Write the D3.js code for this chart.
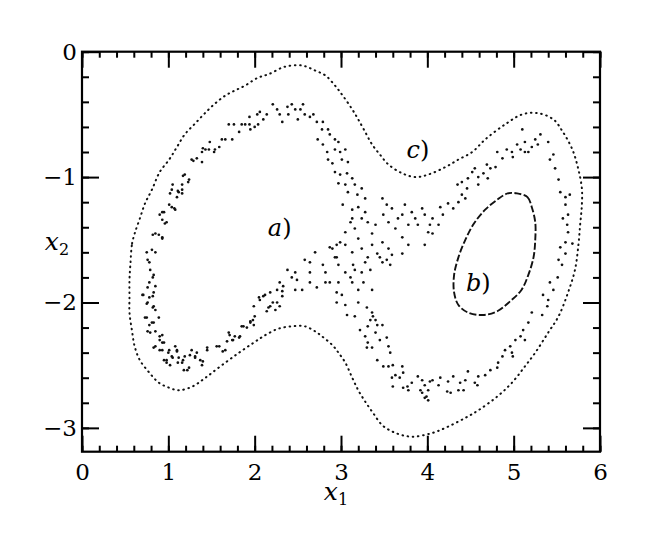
<!DOCTYPE html>
<html>
<head>
<meta charset="utf-8">
<script src="https://cdn.jsdelivr.net/npm/d3@7"></script>
<style>
  body { margin: 0; background: #fff; }
  svg text { font-family: "DejaVu Serif", "Liberation Serif", serif; fill: #000; }
</style>
</head>
<body>
<svg id="chart" width="654" height="534"></svg>
<script>
// a) chaotic band (x1, x2)
const bandA = [
    // upper-left arm
    [2.03,-0.50],[1.94,-0.52],[1.89,-0.58],[1.85,-0.58],[1.82,-0.64],[1.76,-0.58],[1.70,-0.58],
    [1.66,-0.70],[1.62,-0.70],[1.59,-0.76],[1.54,-0.78],[1.48,-0.72],[1.47,-0.78],[1.43,-0.78],
    [1.39,-0.80],[1.33,-0.85],[1.27,-0.86],[1.39,-0.88],[1.19,-0.98],[1.24,-1.02],[1.16,-1.06],
    [1.12,-1.12],[1.10,-1.16],[1.04,-1.10],[1.02,-1.13],[1.07,-1.25],[1.01,-1.22],[0.95,-1.28],
    [0.90,-1.30],[0.93,-1.34],[0.96,-1.37],[0.89,-1.46],[0.85,-1.45],[0.93,-1.48],[0.81,-1.58],
    [0.85,-1.60],[1.94,-0.58],[2.00,-0.60],[1.95,-0.62],[1.74,-0.70],[1.53,-0.80],[1.16,-1.10],
    [1.40,-0.77],[1.29,-0.87],[1.17,-0.99],[1.23,-1.04],[1.05,-1.06],[1.11,-1.11],[1.16,-1.13],
    [1.04,-1.24],[1.08,-1.26],[0.93,-1.28],[0.98,-1.36],[0.82,-1.46],[0.93,-1.49],
    // left side going down
    [0.76,-1.66],[0.79,-1.74],[0.82,-1.80],[0.76,-1.88],[0.71,-1.94],[0.82,-1.95],[0.76,-2.00],
    [0.82,-2.04],[0.75,-2.12],[0.81,-2.16],[0.76,-2.23],[0.90,-2.27],[0.85,-2.35],[0.93,-2.32],
    [0.75,-1.60],[0.78,-1.68],[0.83,-1.78],[0.78,-1.84],[0.85,-1.87],[0.70,-1.94],[0.78,-1.96],
    [0.83,-1.92],[0.75,-2.01],[0.83,-2.03],[0.85,-2.06],[0.73,-2.12],[0.89,-2.12],[0.78,-2.18],
    [0.83,-2.16],[0.85,-2.23],[0.79,-2.24],[0.93,-2.26],[0.90,-2.30],[0.95,-2.32],[0.83,-2.36],
    // lower-left bend
    [0.90,-2.38],[1.00,-2.40],[0.98,-2.46],[1.05,-2.44],[1.02,-2.50],[1.10,-2.38],[1.11,-2.48],
    [1.17,-2.46],[1.22,-2.54],[1.25,-2.42],[1.31,-2.44],[1.33,-2.40],[1.40,-2.47],[1.45,-2.38],
    [0.93,-2.38],[1.01,-2.38],[1.08,-2.35],[1.10,-2.39],[1.04,-2.43],[0.98,-2.48],[0.95,-2.46],
    [1.12,-2.44],[1.16,-2.48],[1.19,-2.43],[1.27,-2.38],[1.31,-2.43],[1.24,-2.52],[1.18,-2.54],
    [1.37,-2.46],[1.39,-2.50],[1.45,-2.36],
    // lower arm towards the centre
    [1.56,-2.35],[1.63,-2.39],[1.68,-2.31],[1.75,-2.30],[1.83,-2.27],[1.87,-2.19],[1.95,-2.16],
    [1.98,-2.14],[2.10,-1.95],[2.18,-2.03],[2.26,-2.00],[2.32,-1.95],[2.33,-1.87],[2.26,-1.90],
    [2.14,-2.07],[1.91,-2.20],[1.71,-2.26],[1.59,-2.35],[1.66,-2.38],[1.70,-2.24],[1.74,-2.30],
    [1.77,-2.27],[1.82,-2.28],[1.85,-2.19],[1.95,-2.15],[1.99,-2.18],[2.00,-2.11],[2.05,-1.96],
    [1.99,-2.03],[2.06,-1.98],[2.12,-1.94],[2.18,-1.92],[2.16,-2.04],[2.21,-2.00],[2.24,-2.06],
    [2.29,-2.03],[2.32,-1.91],[2.29,-1.84],
    // central crossing
    [2.38,-1.74],[2.43,-1.80],[2.47,-1.76],[2.49,-1.82],[2.47,-1.90],[2.55,-1.90],[2.58,-1.66],
    [2.64,-1.68],[2.64,-1.76],[2.64,-1.84],[2.72,-1.88],[2.70,-1.60],[2.79,-1.70],[2.82,-1.76],
    [2.82,-1.84],[2.87,-1.84],[2.93,-1.64],[2.97,-1.70],[2.97,-1.84],[2.95,-1.92],[2.95,-2.00],
    [3.01,-1.94],[3.05,-1.76],[3.05,-2.02],[3.07,-2.10],[3.11,-1.80],[3.13,-1.84],[3.13,-1.60],
    [3.14,-1.70],[3.16,-1.74],[3.20,-1.90],[3.16,-2.11],[3.20,-2.00],[3.24,-1.76],[3.26,-1.84],
    [3.28,-1.68],[3.31,-1.64],[3.34,-1.74],[3.36,-1.90],[3.30,-2.04],[3.36,-2.08],[3.37,-2.11],
    [3.40,-2.14],[3.34,-2.14],[3.31,-2.19],[2.87,-1.56],[2.99,-1.52],[2.95,-1.64],[3.11,-1.36],
    // lower-right arm
    [3.22,-2.22],[3.28,-2.27],[3.31,-2.32],[3.30,-2.36],[3.36,-2.36],[3.40,-2.24],[3.45,-2.30],
    [3.48,-2.18],[3.42,-2.18],[3.53,-2.28],[3.55,-2.35],[3.57,-2.40],[3.42,-2.46],[3.49,-2.51],
    [3.55,-2.51],[3.60,-2.50],[3.71,-2.51],[3.72,-2.56],[3.59,-2.60],[3.63,-2.58],[3.68,-2.60],
    [3.60,-2.67],[3.72,-2.68],[3.78,-2.70],[3.82,-2.64],[3.89,-2.59],[3.94,-2.62],[3.97,-2.66],
    [4.01,-2.70],[4.03,-2.63],[3.94,-2.72],[3.97,-2.76],[4.01,-2.78],[3.77,-2.67],[3.92,-2.70],
    [3.99,-2.75],[4.27,-2.72],[4.42,-2.70],[4.58,-2.66],
    [4.06,-2.62],[4.13,-2.66],[4.15,-2.60],[4.23,-2.71],[4.24,-2.63],[4.30,-2.59],[4.36,-2.70],
    [4.38,-2.64],[4.44,-2.62],[4.47,-2.55],[4.55,-2.64],[4.59,-2.59],[4.67,-2.58],[4.73,-2.54],
    [4.81,-2.52],[4.82,-2.48],[4.87,-2.43],[4.90,-2.38],[4.98,-2.40],[4.96,-2.35],[5.02,-2.30],
    [5.08,-2.27],[5.11,-2.22],[5.17,-2.16],[5.21,-2.08],[5.33,-2.10],[5.39,-2.03],[5.40,-1.98],
    [5.34,-1.94],[5.46,-1.90],[5.42,-1.84],[5.51,-1.80],[5.56,-1.70],[5.52,-1.66],[5.60,-1.61],
    [5.13,-2.30],[4.99,-2.43],
    // right side
    [5.60,-1.52],[5.68,-1.53],[5.54,-1.56],[5.63,-1.44],[5.62,-1.38],[5.57,-1.33],[5.63,-1.30],
    [5.60,-1.22],[5.60,-1.16],[5.65,-1.14],[5.54,-1.12],[5.52,-1.02],[5.48,-0.93],[5.46,-0.82],
    [5.42,-0.86],[5.40,-0.72],
    // upper-right arm
    [5.31,-0.66],[5.28,-0.74],[5.25,-0.70],[5.21,-0.76],[5.17,-0.80],[5.13,-0.72],[5.13,-0.80],
    [5.10,-0.62],[5.08,-0.78],[5.04,-0.74],[4.99,-0.84],[4.98,-0.80],[4.92,-0.78],[4.87,-0.85],
    [4.81,-0.80],[4.79,-0.92],[4.73,-0.93],[4.69,-0.90],[4.65,-0.97],[4.59,-1.00],[4.55,-0.93],
    [4.52,-0.96],[4.47,-1.01],[4.46,-1.09],[4.40,-1.04],[4.35,-1.06],[4.40,-1.14],[4.36,-1.20],
    [4.30,-1.25],[4.24,-1.21],[4.15,-1.24],[4.18,-1.30],[4.13,-1.38],[4.03,-1.38],[4.06,-1.45],
    [3.97,-1.54],[4.59,-1.06],[4.70,-1.01],[4.44,-1.17],
    // upper-middle arm and crossing
    [2.06,-0.48],[2.10,-0.54],[2.04,-0.58],[2.14,-0.50],[2.21,-0.42],[2.26,-0.46],[2.29,-0.50],
    [2.32,-0.56],[2.38,-0.44],[2.39,-0.50],[2.43,-0.42],[2.47,-0.46],[2.50,-0.54],[2.53,-0.46],
    [2.56,-0.42],[2.58,-0.50],[2.64,-0.52],[2.68,-0.50],[2.72,-0.56],[2.78,-0.62],[2.79,-0.56],
    [2.85,-0.62],[2.87,-0.66],[2.73,-0.70],[2.79,-0.74],[2.93,-0.70],[2.97,-0.72],[2.84,-0.80],
    [2.93,-0.78],[2.99,-0.80],[3.05,-0.78],[2.85,-0.86],[2.90,-0.89],[3.01,-0.86],[3.08,-0.88],
    [2.93,-0.96],[2.99,-0.98],[3.07,-0.97],[3.13,-1.01],[2.97,-1.05],[3.05,-1.06],[3.16,-1.06],
    [3.08,-1.12],[3.19,-1.14],[3.24,-1.09],[3.28,-1.17],[3.02,-1.22],[3.13,-1.26],[3.20,-1.24],
    [3.28,-1.28],[3.13,-1.33],[3.24,-1.33],[3.31,-1.36],[3.16,-1.41],[3.05,-1.44],[2.95,-1.54],
    [2.90,-1.57],[3.05,-1.54],[3.20,-1.49],[3.24,-1.57],[3.36,-1.45],[3.40,-1.38],[3.48,-1.17],
    [3.53,-1.22],[3.59,-1.25],[3.49,-1.30],[3.55,-1.36],[3.63,-1.41],[3.71,-1.30],[3.74,-1.22],
    [3.82,-1.28],[3.86,-1.33],[3.89,-1.38],[3.94,-1.25],[3.97,-1.30],[4.01,-1.44],[4.06,-1.33],
    [3.71,-1.48],[3.78,-1.54],[3.48,-1.52],[3.55,-1.57],[3.36,-1.54],[3.66,-1.33],[3.78,-1.38],
    [3.42,-1.61],[3.45,-1.64],[3.53,-1.66],[3.59,-1.62],[3.48,-1.68],[3.71,-1.61],[3.57,-1.70]
];

// b) closed curve
const loopB = [
    [5.04,-1.13],[5.16,-1.16],[5.21,-1.24],[5.25,-1.36],[5.25,-1.50],[5.23,-1.64],[5.17,-1.78],
    [5.09,-1.90],[4.96,-1.99],[4.81,-2.07],[4.64,-2.10],[4.47,-2.08],[4.36,-2.02],[4.31,-1.92],
    [4.31,-1.78],[4.36,-1.64],[4.44,-1.50],[4.54,-1.37],[4.67,-1.26],[4.81,-1.18],[4.93,-1.13]
];

// c) outer curve
const curveC = [
    [0.56,-1.70],[0.58,-1.53],[0.61,-1.45],[0.67,-1.33],[0.73,-1.21],[0.81,-1.10],[0.90,-0.96],
    [1.01,-0.86],[1.10,-0.76],[1.19,-0.66],[1.30,-0.58],[1.41,-0.50],[1.53,-0.42],[1.66,-0.35],
    [1.77,-0.31],[1.89,-0.27],[2.03,-0.21],[2.16,-0.18],[2.35,-0.12],[2.55,-0.11],[2.70,-0.15],
    [2.82,-0.19],[2.93,-0.27],[3.02,-0.35],[3.13,-0.46],[3.20,-0.54],[3.28,-0.64],[3.36,-0.74],
    [3.45,-0.82],[3.55,-0.90],[3.71,-0.97],[3.86,-1.00],[4.01,-0.98],[4.21,-0.92],[4.36,-0.86],
    [4.52,-0.80],[4.67,-0.70],[4.90,-0.58],[5.10,-0.50],[5.28,-0.49],[5.46,-0.54],[5.57,-0.64],
    [5.68,-0.78],[5.75,-0.94],[5.79,-1.09],[5.79,-1.22],[5.77,-1.38],[5.75,-1.54],[5.71,-1.74],
    [5.63,-1.92],[5.52,-2.11],[5.40,-2.24],[5.25,-2.40],[5.13,-2.51],[4.98,-2.64],[4.81,-2.75],
    [4.59,-2.86],[4.44,-2.92],[4.24,-2.99],[4.06,-3.04],[3.82,-3.07],[3.63,-3.04],[3.48,-2.98],
    [3.37,-2.88],[3.28,-2.79],[3.20,-2.70],[3.13,-2.60],[3.05,-2.48],[2.97,-2.40],[2.90,-2.34],
    [2.78,-2.27],[2.70,-2.23],[2.58,-2.19],[2.43,-2.19],[2.27,-2.21],[2.10,-2.27],[1.99,-2.32],
    [1.82,-2.40],[1.62,-2.50],[1.43,-2.60],[1.28,-2.67],[1.12,-2.70],[1.01,-2.68],[0.89,-2.64],
    [0.78,-2.56],[0.67,-2.46],[0.61,-2.35],[0.58,-2.23],[0.55,-2.08],[0.55,-1.96],[0.55,-1.82]
];

const xMajor = [0, 1, 2, 3, 4, 5, 6];
const yMajor = [0, -1, -2, -3];
const curveLabels = [
    {name: "a", x: 2.29, y: -1.47},
    {name: "b", x: 4.59, y: -1.91},
    {name: "c", x: 3.89, y: -0.85}
];

const svg = d3.select("#chart");
const x = d3.scaleLinear().domain([0, 6]).range([82, 600]);
const y = d3.scaleLinear().domain([-3.19, 0]).range([451.7, 51.7]);

const minorX = d3.range(0, 6.001, 0.2);
const minorY = d3.range(-3.2, 0.001, 0.2).filter(d => d >= -3.19);
const fmt = d => d < 0 ? "\u2212" + (-d) : "" + d;

// inward ticks on all four sides
function tickRow(axis, values, size, tx, ty) {
    svg.append("g")
        .attr("transform", "translate(" + tx + "," + ty + ")")
        .call(axis.tickValues(values).tickSize(-size).tickFormat(""))
        .call(g => g.select(".domain").remove())
        .selectAll("line").attr("stroke", "#000").attr("stroke-width", 2);
}
tickRow(d3.axisBottom(x), minorX, 6, 0, y.range()[0]);
tickRow(d3.axisBottom(x), xMajor, 16, 0, y.range()[0]);
tickRow(d3.axisTop(x), minorX, 6, 0, y.range()[1]);
tickRow(d3.axisTop(x), xMajor, 16, 0, y.range()[1]);
tickRow(d3.axisLeft(y), minorY, 7, x.range()[0], 0);
tickRow(d3.axisLeft(y), yMajor, 17, x.range()[0], 0);
tickRow(d3.axisRight(y), minorY, 7, x.range()[1], 0);
tickRow(d3.axisRight(y), yMajor, 17, x.range()[1], 0);

// frame
svg.append("rect")
    .attr("x", x.range()[0]).attr("y", y.range()[1])
    .attr("width", x.range()[1] - x.range()[0])
    .attr("height", y.range()[0] - y.range()[1])
    .attr("fill", "none").attr("stroke", "#000").attr("stroke-width", 2.2);

// tick labels
svg.append("g")
    .attr("transform", "translate(0," + y.range()[0] + ")")
    .call(d3.axisBottom(x).tickValues(xMajor).tickSize(0).tickPadding(12).tickFormat(fmt))
    .call(g => g.select(".domain").remove())
    .selectAll("text").attr("font-size", 23).style("font-family", '"DejaVu Serif", serif');

svg.append("g")
    .attr("transform", "translate(" + x.range()[0] + ",0)")
    .call(d3.axisLeft(y).tickValues(yMajor).tickSize(0).tickPadding(5).tickFormat(fmt))
    .call(g => g.select(".domain").remove())
    .selectAll("text").attr("font-size", 23).style("font-family", '"DejaVu Serif", serif');

// axis titles
const xt = svg.append("text").attr("x", 336).attr("y", 500).attr("text-anchor", "middle");
xt.append("tspan").attr("font-size", 25).attr("font-style", "italic").text("x");
xt.append("tspan").attr("font-size", 16).attr("dy", 5).text("1");

const yt = svg.append("text").attr("x", 57).attr("y", 250).attr("text-anchor", "middle");
yt.append("tspan").attr("font-size", 25).attr("font-style", "italic").text("x");
yt.append("tspan").attr("font-size", 16).attr("dy", 5).text("2");

// c) outer dotted curve
const line = d3.line().x(d => x(d[0])).y(d => y(d[1])).curve(d3.curveCatmullRomClosed);
svg.append("path")
    .datum(curveC)
    .attr("d", line)
    .attr("fill", "none").attr("stroke", "#111").attr("stroke-width", 2)
    .attr("stroke-linecap", "round").attr("stroke-dasharray", "0.6 4.6");

// b) dashed closed curve
svg.append("path")
    .datum(loopB)
    .attr("d", line)
    .attr("fill", "none").attr("stroke", "#111").attr("stroke-width", 1.9)
    .attr("stroke-dasharray", "7 2.4");

// a) chaotic band
svg.append("g").selectAll("circle")
    .data(bandA)
    .join("circle")
    .attr("cx", d => x(d[0]))
    .attr("cy", d => y(d[1]))
    .attr("r", 1.35)
    .attr("fill", "#111");

// curve labels
curveLabels.forEach(function (d) {
    const t = svg.append("text")
        .attr("x", x(d.x)).attr("y", y(d.y))
        .attr("text-anchor", "middle").attr("font-size", 24);
    t.append("tspan").attr("font-style", "italic").text(d.name);
    t.append("tspan").text(")");
});
</script>
</body>
</html>
